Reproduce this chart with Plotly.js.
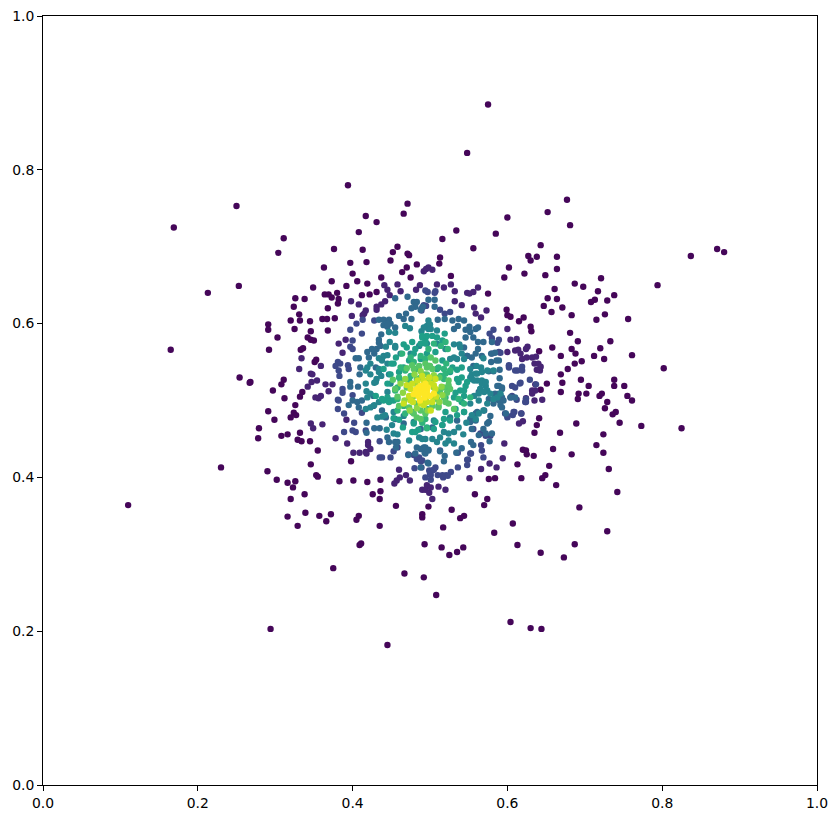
<!DOCTYPE html>
<html><head><meta charset="utf-8">
<script src="https://cdn.plot.ly/plotly-3.0.1.min.js"></script>
<style>html,body{margin:0;padding:0;background:#fff}</style></head>
<body><div id="chart" style="width:837px;height:819px"></div>
<script>
const level0=[[.431,.732],[.408,.719],[.311,.711],[.304,.692],[.376,.697],[.413,.696],[.458,.700],[.452,.693],[.471,.691],[.473,.689],[.397,.679],[.418,.680],[.449,.682],[.363,.673],[.470,.673],[.483,.677],[.400,.665],[.464,.667],[.437,.660],[.475,.660],[.373,.655],[.406,.655],[.419,.652],[.392,.649],[.349,.647],[.380,.640],[.364,.638],[.369,.638],[.373,.634],[.412,.637],[.422,.638],[.431,.641],[.326,.633],[.338,.632],[.382,.632],[.381,.626],[.324,.622],[.368,.620],[.331,.612],[.320,.604],[.332,.604],[.345,.603],[.361,.606],[.367,.606],[.377,.607],[.291,.599],[.291,.592],[.325,.593],[.346,.590],[.368,.591],[.303,.582],[.342,.582],[.346,.579],[.350,.578],[.292,.566],[.333,.566],[.336,.568],[.351,.550],[.353,.553],[.311,.527],[.308,.521],[.268,.524],[.297,.513],[.335,.511],[.332,.505],[.312,.503],
[.681,.728],[.534,.721],[.585,.717],[.516,.710],[.643,.702],[.556,.698],[.627,.688],[.630,.682],[.638,.687],[.664,.687],[.513,.686],[.512,.678],[.602,.673],[.664,.671],[.622,.665],[.649,.663],[.596,.660],[.527,.662],[.687,.652],[.698,.648],[.721,.659],[.717,.642],[.661,.645],[.652,.633],[.664,.632],[.708,.628],[.713,.631],[.647,.623],[.671,.621],[.657,.615],[.683,.611],[.715,.605],[.681,.588],[.691,.577],[.658,.569],[.683,.567],[.688,.561],[.669,.558],[.720,.568],[.712,.558],[.696,.551],[.687,.548],[.678,.541],[.669,.534],[.695,.527],[.671,.523],[.705,.519],[.669,.511],[.692,.509],[.702,.509],[.691,.502],[.719,.506],[.575,.639],[.599,.618],[.600,.611],[.604,.609],[.615,.603],[.621,.608],[.630,.596],[.631,.590],[.641,.564],[.643,.514],[.651,.522],
[.326,.494],[.291,.486],[.299,.475],[.324,.484],[.327,.481],[.320,.478],[.279,.464],[.278,.451],[.308,.454],[.316,.456],[.332,.458],[.329,.449],[.334,.447],[.345,.447],[.355,.435],[.346,.417],[.290,.408],[.302,.397],[.316,.393],[.326,.395],[.323,.387],[.353,.403],[.355,.401],[.383,.395],[.401,.396],[.419,.394],[.436,.397],[.320,.372],[.338,.378],[.426,.378],[.436,.382],[.435,.372],[.456,.363],[.339,.354],[.316,.349],[.357,.350],[.372,.352],[.366,.343],[.329,.337],[.408,.350],[.405,.345],[.435,.337],[.409,.312],[.411,.314],[.493,.313],[.490,.352],[.490,.348],[.498,.362],[.375,.282],[.398,.421],
[.715,.442],[.689,.470],[.668,.458],[.635,.458],[.659,.437],[.683,.430],[.634,.428],[.620,.436],[.624,.435],[.625,.430],[.613,.417],[.654,.415],[.649,.403],[.645,.399],[.618,.399],[.663,.390],[.693,.361],[.584,.399],[.576,.398],[.558,.378],[.574,.372],[.570,.364],[.528,.358],[.544,.350],[.539,.347],[.517,.335],[.607,.340],[.583,.328],[.515,.309],[.543,.309],[.535,.303],[.525,.299],[.613,.312],[.643,.302],[.687,.313],[.673,.296],[.641,.477],[.638,.468],
[.837,.688],[.880,.693],[.794,.650],[.738,.637],[.729,.630],[.726,.612],[.756,.606],[.733,.577],[.725,.554],[.761,.559],[.802,.542],[.738,.527],[.738,.519],[.751,.519],[.722,.509],[.755,.506],[.761,.500],[.729,.498],[.726,.490],[.736,.482],[.740,.485],[.745,.471],[.773,.467],[.825,.464],[.724,.456],[.724,.432],[.731,.411],[.742,.381],[.729,.330],
[.445,.182],[.467,.275],[.492,.270],[.508,.247],[.604,.212],[.630,.204],[.644,.203],[.548,.822],[.575,.885],[.394,.780],[.417,.740],[.466,.743],[.471,.756],[.250,.753],[.169,.725],[.652,.745],[.677,.761],[.600,.738],[.110,.364],[.165,.566],[.213,.640],[.253,.649],[.254,.530],[.267,.523],[.230,.413],[.294,.203],[.871,.697]];
const level1=[[.441,.650],[.458,.651],[.487,.650],[.445,.644],[.448,.637],[.462,.642],[.482,.644],[.398,.629],[.408,.625],[.417,.617],[.415,.613],[.413,.611],[.431,.622],[.431,.618],[.437,.625],[.442,.629],[.399,.610],[.391,.579],[.382,.574],[.387,.562],[.334,.555],[.359,.545],[.331,.541],[.346,.535],[.348,.534],[.354,.526],[.347,.524],[.342,.518],[.365,.521],[.374,.521],[.369,.512],[.352,.504],[.359,.506],[.356,.503],
[.492,.668],[.495,.671],[.498,.673],[.503,.670],[.527,.651],[.509,.651],[.518,.647],[.532,.642],[.548,.640],[.551,.639],[.556,.641],[.562,.647],[.532,.629],[.541,.624],[.557,.621],[.559,.613],[.573,.617],[.566,.608],[.600,.593],[.604,.579],[.612,.580],[.626,.570],[.624,.567],[.600,.563],[.610,.565],[.614,.566],[.617,.561],[.619,.554],[.625,.556],[.632,.556],[.637,.557],[.635,.548],[.640,.548],[.643,.544],[.638,.540],[.642,.539],[.636,.521],[.632,.513],[.636,.513],[.624,.503],[.632,.509],
[.346,.470],[.349,.464],[.361,.469],[.378,.451],[.392,.475],[.393,.444],[.420,.446],[.420,.442],[.423,.437],[.417,.433],[.418,.431],[.409,.432],[.401,.432],[.460,.410],[.469,.403],[.461,.400],[.457,.396],[.454,.392],[.474,.396],[.496,.390],[.490,.384],[.494,.384],[.499,.380],[.503,.372],[.520,.384],[.511,.388],[.501,.387],[.551,.399],[.566,.411],[.577,.418],[.586,.413],[.594,.425],[.596,.444],[.618,.483],[.620,.473],[.615,.470],[.635,.500],[.645,.501]];
const level2=[[.494,.643],[.497,.641],[.507,.642],[.506,.640],[.495,.623],[.413,.605],[.405,.600],[.397,.592],[.412,.587],[.428,.604],[.400,.578],[.397,.570],[.400,.567],[.381,.550],[.384,.548],[.378,.545],[.394,.546],[.395,.541],[.382,.539],[.383,.532],[.387,.515],[.387,.510],[.381,.501],[.400,.507],
[.582,.592],[.577,.587],[.580,.581],[.589,.579],[.587,.575],[.591,.562],[.602,.546],[.602,.543],[.619,.544],[.619,.539],[.610,.539],[.606,.519],[.610,.517],[.616,.522],[.606,.506],[.526,.615],[.519,.613],[.513,.618],[.490,.621],[.492,.624],[.489,.617],
[.382,.500],[.381,.489],[.389,.483],[.402,.471],[.412,.484],[.389,.459],[.400,.461],[.404,.459],[.417,.461],[.435,.447],[.458,.439],[.453,.434],[.435,.426],[.438,.426],[.449,.426],[.480,.412],[.489,.413],[.486,.426],[.490,.422],[.494,.400],[.499,.409],[.501,.403],[.501,.397],[.548,.416],[.549,.423],[.536,.413],[.527,.407],[.523,.402],[.517,.400],[.510,.403],[.507,.413],[.503,.409],[.500,.405],[.553,.431],[.566,.442],[.567,.435],[.569,.426],[.597,.483],[.600,.478],[.609,.485],[.607,.481],[.624,.498],[.624,.502],[.604,.504],[.612,.501],
[.580,.561],[.589,.563],[.602,.545],[.613,.539],[.617,.523],[.629,.527],[.637,.521],[.623,.498],[.608,.485],[.618,.483],[.600,.480],[.578,.454],[.572,.454],[.565,.457],[.556,.463],[.472,.430],[.479,.429],[.483,.424],[.488,.421],[.513,.435],[.536,.432],[.552,.431],[.548,.423],[.521,.403],[.516,.403],[.505,.410]];
const level3=[[.471,.635],[.455,.633],[.498,.631],[.506,.631],[.479,.628],[.483,.628],[.481,.622],[.476,.620],[.488,.618],[.491,.622],[.469,.613],[.460,.610],[.466,.606],[.476,.606],[.434,.605],[.440,.605],[.447,.605],[.440,.598],[.445,.596],[.449,.600],[.445,.600],[.455,.595],[.437,.586],[.434,.579],[.404,.555],[.408,.555],[.419,.563],[.425,.567],[.431,.567],[.428,.561],[.421,.556],[.434,.575],[.410,.543],[.409,.534],[.397,.524],[.397,.518],[.407,.518],
[.579,.561],[.584,.562],[.580,.576],[.569,.576],[.562,.576],[.551,.596],[.559,.593],[.562,.595],[.546,.592],[.552,.589],[.546,.582],[.556,.582],[.537,.606],[.544,.604],[.529,.604],[.531,.593],[.536,.597],[.519,.606],[.506,.622],[.510,.605],[.562,.567],[.559,.561],[.567,.558],[.554,.556],[.548,.558],[.579,.550],[.586,.552],[.589,.552],[.576,.538],[.582,.538],[.590,.540],[.590,.529],[.589,.519],[.593,.515],[.589,.509],[.584,.504],[.593,.504],
[.395,.494],[.400,.500],[.406,.498],[.412,.500],[.408,.491],[.418,.471],[.418,.458],[.428,.464],[.435,.464],[.445,.452],[.447,.446],[.455,.446],[.458,.446],[.456,.439],[.472,.429],[.483,.439],[.492,.439],[.481,.431],[.494,.431],[.498,.418],[.497,.419],[.488,.413],[.518,.421],[.519,.428],[.513,.434],[.493,.432],[.498,.436],[.534,.432],[.541,.438],[.553,.446],[.556,.442],[.577,.447],[.572,.457],[.563,.455],[.580,.457],[.554,.463],[.552,.472],[.569,.463],[.576,.472],[.584,.509],[.591,.507],[.589,.500],[.595,.500],[.582,.496],[.591,.494],
[.428,.565],[.436,.571],[.430,.543],[.427,.506],[.438,.487],[.427,.493],[.443,.478],[.455,.476],[.466,.470],[.488,.463],[.503,.465],[.516,.468],[.535,.474],[.552,.476],[.561,.485],[.563,.511],[.548,.558],[.556,.545],[.544,.569],[.587,.519],[.593,.517],[.604,.504],[.610,.504],[.576,.502],[.570,.487],[.559,.483],[.559,.474],[.574,.470],[.578,.480],[.593,.491],[.598,.483],[.488,.437],[.494,.439],[.498,.435]];
const level4=[[.468,.597],[.474,.594],[.489,.590],[.496,.597],[.498,.593],[.448,.576],[.443,.570],[.447,.589],[.455,.588],[.440,.558],[.438,.552],[.445,.559],[.434,.555],[.455,.571],[.419,.543],[.423,.548],[.417,.539],[.423,.534],[.417,.522],[.428,.523],[.434,.541],[.437,.532],[.431,.528],[.418,.512],[.423,.509],[.419,.504],
[.498,.604],[.500,.599],[.492,.595],[.501,.593],[.509,.591],[.531,.573],[.538,.573],[.539,.569],[.541,.561],[.544,.554],[.535,.554],[.531,.556],[.569,.555],[.566,.543],[.560,.545],[.552,.541],[.554,.534],[.561,.535],[.554,.528],[.567,.526],[.572,.519],[.565,.515],[.574,.513],[.563,.509],
[.417,.489],[.423,.491],[.428,.494],[.434,.498],[.432,.478],[.438,.479],[.442,.481],[.444,.462],[.453,.457],[.458,.456],[.451,.468],[.473,.448],[.486,.452],[.490,.450],[.543,.456],[.531,.459],[.524,.457],[.518,.459],[.513,.452],[.524,.448],[.520,.444],[.509,.446],[.503,.450],[.531,.444],[.494,.450],[.547,.471],[.537,.465],[.554,.481],[.559,.476],[.563,.483],[.569,.487],[.563,.500],[.574,.496],[.578,.509],
[.449,.522],[.445,.511],[.449,.500],[.453,.485],[.466,.480],[.479,.472],[.490,.474],[.505,.474],[.526,.478],[.544,.485],[.552,.496],[.557,.506],[.552,.530],[.561,.526],[.526,.554],[.462,.561],[.445,.548],[.434,.537],[.430,.524],[.447,.534],[.509,.574],[.496,.574],[.475,.561],[.520,.567],[.455,.569],[.486,.571],[.567,.522],[.572,.524],[.565,.515],[.570,.511],[.587,.504],[.591,.509],[.582,.502],[.557,.526],[.559,.535],[.567,.537],[.574,.539],[.582,.539]];
const level5=[[.466,.573],[.470,.569],[.477,.576],[.481,.567],[.488,.574],[.494,.578],[.490,.582],[.496,.584],[.445,.522],[.440,.541],[.449,.534],[.453,.548],[.450,.548],[.456,.556],[.430,.506],[.438,.502],[.445,.504],
[.519,.587],[.516,.578],[.509,.582],[.503,.584],[.490,.584],[.494,.574],[.541,.543],[.535,.540],[.529,.543],[.541,.530],[.537,.524],[.546,.519],[.539,.513],[.533,.510],[.544,.506],
[.440,.500],[.447,.498],[.453,.500],[.453,.477],[.460,.475],[.465,.465],[.479,.470],[.485,.462],[.477,.459],[.481,.459],[.516,.468],[.505,.463],[.496,.465],[.526,.474],[.518,.476],[.507,.472],[.535,.481],[.544,.485],
[.479,.561],[.488,.554],[.496,.561],[.507,.563],[.473,.552],[.460,.537],[.466,.543],[.516,.552],[.526,.537],[.509,.541],[.535,.528],[.548,.524],[.544,.513],[.541,.498],[.533,.489],[.531,.504],[.520,.485]];
const level6=[[.464,.561],[.475,.556],[.479,.550],[.488,.558],[.494,.554],[.462,.543],[.468,.539],[.460,.530],[.473,.526],[.458,.517],
[.520,.576],[.523,.567],[.514,.571],[.505,.574],[.498,.567],[.521,.548],[.518,.541],[.511,.543],[.514,.532],[.520,.535],[.526,.539],
[.468,.483],[.458,.487],[.494,.476],[.490,.471],[.496,.464],[.537,.502],[.544,.496],[.552,.504],
[.483,.541],[.499,.545],[.475,.532],[.462,.526],[.518,.528],[.524,.517],[.520,.504],[.511,.493],[.496,.489],[.477,.485],[.455,.513],[.458,.502],[.466,.493]];
const level7=[[.479,.541],[.486,.545],[.492,.534],[.483,.528],[.496,.543],[.501,.556],[.507,.552],[.494,.548],[.503,.541],[.496,.534],[.524,.526],[.518,.517],[.526,.515],[.513,.511],[.479,.483],[.488,.487],[.483,.478],[.473,.491],[.531,.489],[.524,.496],[.518,.504],[.511,.491],[.488,.476],[.494,.483],[.458,.505],[.455,.515],[.460,.493],[.452,.527],[.470,.542],[.477,.546],[.500,.545],[.522,.510],[.524,.520],[.520,.498],[.512,.530],
[.488,.530],[.505,.528],[.470,.517],[.473,.504],[.511,.513],[.509,.502],[.483,.496],[.503,.493]];
const level8=[[.498,.526],[.465,.510],[.467,.500],[.462,.522],[.468,.528],[.480,.534],[.488,.538],[.512,.498],[.515,.518],[.516,.507],[.505,.533],[.474,.487],[.483,.490],[.497,.487],[.481,.522],[.496,.524],[.479,.506],[.503,.506],[.490,.500],[.505,.517]];
const level9=[[.501,.522],[.492,.526],[.507,.528],[.507,.515],[.475,.500],[.488,.496],[.496,.498],[.466,.496],[.501,.487],[.492,.494],[.503,.498],[.494,.502],[.475,.515],[.473,.506],[.478,.498],[.484,.526],[.470,.520],[.505,.520],[.508,.505],[.477,.522],[.499,.530],[.490,.532]];
const level10=[[.488,.513],[.492,.517],[.496,.513],[.505,.509],[.496,.509],[.490,.510],[.485,.506],[.493,.504],[.482,.514],[.497,.517],[.488,.519],[.479,.508],[.500,.506],[.487,.500],[.494,.522],[.492,.515],[.485,.517],[.494,.509],[.483,.511]];
const levels=[level0,level1,level2,level3,level4,level5,level6,level7,level8,level9,level10];
const levelColors=[0.15,1,2.2,3.4,4.5,5.6,6.5,7.4,8.3,9.2,10];
const tickValues=[0,0.2,0.4,0.6,0.8,1];
const tickLabels=["0.0","0.2","0.4","0.6","0.8","1.0"];

const xs=[],ys=[],cs=[];
levels.forEach((pts,i)=>pts.forEach(p=>{xs.push(p[0]);ys.push(p[1]);cs.push(levelColors[i]);}));
const axis={range:[0,1],tickmode:"array",tickvals:tickValues,ticktext:tickLabels,ticks:"outside",ticklen:5,tickwidth:1,tickcolor:"#000",
  showline:true,linecolor:"#000",linewidth:1,mirror:true,showgrid:false,zeroline:false,
  tickfont:{family:"DejaVu Sans",size:13.9,color:"#000"}};
Plotly.newPlot("chart",[{type:"scatter",mode:"markers",x:xs,y:ys,
  marker:{size:6.4,color:cs,colorscale:"Viridis",cmin:0,cmax:10,line:{width:0}},hoverinfo:"skip"}],
  {width:837,height:819,margin:{l:43,r:20,t:15.5,b:34},paper_bgcolor:"#fff",plot_bgcolor:"#fff",showlegend:false,
   xaxis:Object.assign({},axis),yaxis:Object.assign({},axis)},{displayModeBar:false,staticPlot:true});
</script></body></html>
